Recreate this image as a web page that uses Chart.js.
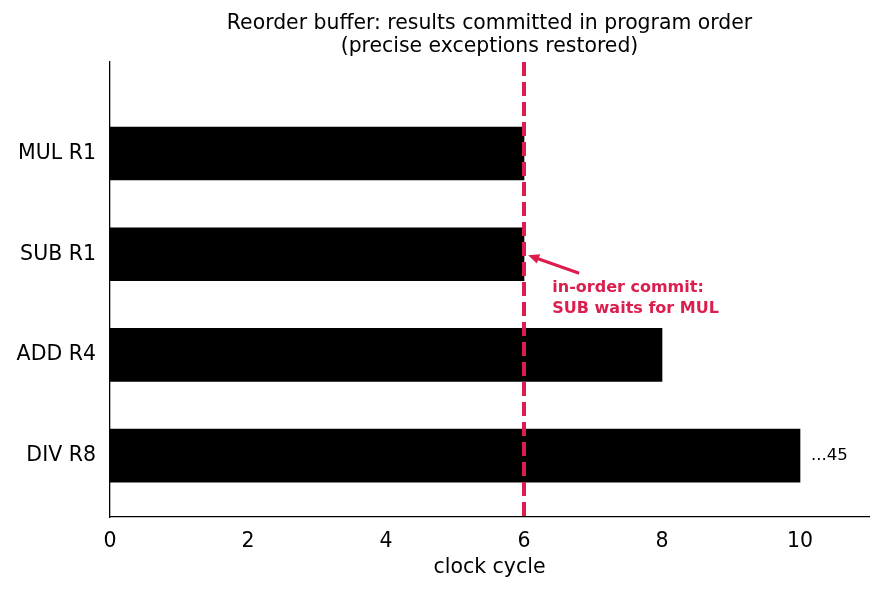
<!DOCTYPE html>
<html>
<head>
<meta charset="utf-8">
<script src="https://cdn.jsdelivr.net/npm/chart.js@4/dist/chart.umd.min.js"></script>
<style>
  html, body { margin: 0; padding: 0; background: #fff; }
  #wrap { width: 884px; height: 590px; }
</style>
</head>
<body>
<div id="wrap"><canvas id="robChart" width="884" height="590"></canvas></div>
<script>
// instructions, top to bottom as drawn
const instructions = ['MUL R1', 'SUB R1', 'ADD R4', 'DIV R8'];
const commitCycle = [6, 6, 8, 10];
const xTicks = [0, 2, 4, 6, 8, 10];
const commitLine = 6;
const overflowLabel = '...45';
const noteLines = ['in-order commit:', 'SUB waits for MUL'];

const red = '#dc1e4e';
const font = "'DejaVu Sans', sans-serif";

// bottom instruction sits at y = 0
const rows = instructions.map((name, i) => ({ x: commitCycle[i], y: instructions.length - 1 - i }));

const extras = {
  id: 'extras',
  afterDatasetsDraw(chart) {
    const { ctx, scales: { x, y }, chartArea } = chart;
    ctx.save();

    // dashed commit line
    ctx.strokeStyle = red;
    ctx.lineWidth = 4;
    ctx.setLineDash([14, 6]);
    ctx.beginPath();
    ctx.moveTo(x.getPixelForValue(commitLine), chartArea.top);
    ctx.lineTo(x.getPixelForValue(commitLine), chartArea.bottom);
    ctx.stroke();
    ctx.setLineDash([]);

    // arrow to SUB R1
    const subY = y.getPixelForValue(instructions.length - 1 - instructions.indexOf('SUB R1'));
    const tipX = x.getPixelForValue(6.06), tipY = subY + 1;
    const tailX = x.getPixelForValue(6.8), tailY = subY + 19;
    const ang = Math.atan2(tipY - tailY, tipX - tailX);
    ctx.strokeStyle = red;
    ctx.fillStyle = red;
    ctx.lineWidth = 3;
    ctx.beginPath();
    ctx.moveTo(tailX, tailY);
    ctx.lineTo(tipX - 6 * Math.cos(ang), tipY - 6 * Math.sin(ang));
    ctx.stroke();
    ctx.beginPath();
    ctx.moveTo(tipX, tipY);
    ctx.lineTo(tipX - 11 * Math.cos(ang) + 5 * Math.sin(ang), tipY - 11 * Math.sin(ang) - 5 * Math.cos(ang));
    ctx.lineTo(tipX - 11 * Math.cos(ang) - 5 * Math.sin(ang), tipY - 11 * Math.sin(ang) + 5 * Math.cos(ang));
    ctx.closePath();
    ctx.fill();

    // note text
    ctx.font = 'bold 16px ' + font;
    ctx.textAlign = 'left';
    ctx.textBaseline = 'middle';
    noteLines.forEach((t, i) => ctx.fillText(t, x.getPixelForValue(6.41), subY + 34 + i * 21));

    // overflow label next to DIV
    ctx.fillStyle = '#000';
    ctx.font = '16.5px ' + font;
    const divY = y.getPixelForValue(0);
    ctx.fillText(overflowLabel, x.getPixelForValue(10) + 11, divY);

    ctx.restore();
  }
};

new Chart(document.getElementById('robChart'), {
  type: 'bar',
  data: {
    datasets: [{
      data: rows,
      backgroundColor: '#000',
      borderWidth: 0,
      barThickness: 53
    }]
  },
  options: {
    indexAxis: 'y',
    responsive: false,
    animation: false,
    layout: { padding: { left: 0, right: 15, top: 0, bottom: 14 } },
    plugins: {
      legend: { display: false },
      tooltip: { enabled: false },
      title: {
        display: true,
        fullSize: false,
        text: ['Reorder buffer: results committed in program order', '(precise exceptions restored)'],
        color: '#000',
        font: { family: font, size: 20.4, weight: 'normal', lineHeight: 1.15 },
        padding: { top: 12, bottom: 3 }
      }
    },
    scales: {
      x: {
        type: 'linear',
        min: 0,
        max: 11,
        afterBuildTicks: s => { s.ticks = xTicks.map(v => ({ value: v })); },
        grid: { display: false, drawTicks: true, tickLength: 6, tickColor: '#000' },
        border: { color: '#000', width: 1.3 },
        ticks: { color: '#000', font: { family: font, size: 20.5 }, padding: 6, maxRotation: 0 },
        title: { display: true, text: 'clock cycle', color: '#000', font: { family: font, size: 20.5, lineHeight: 0.8 }, padding: { top: 0, bottom: 0 } }
      },
      y: {
        type: 'linear',
        offset: false,
        min: -0.61,
        max: 3.91,
        afterBuildTicks: s => { s.ticks = instructions.map((_, i) => ({ value: i })); },
        afterFit: s => { s.width = 110; },
        grid: { display: false, drawTicks: true, tickLength: 6, tickColor: '#000' },
        border: { color: '#000', width: 1.3 },
        ticks: {
          color: '#000',
          font: { family: font, size: 20.5 },
          padding: 8,
          callback: v => instructions[instructions.length - 1 - v]
        }
      }
    }
  },
  plugins: [extras]
});
</script>
</body>
</html>
